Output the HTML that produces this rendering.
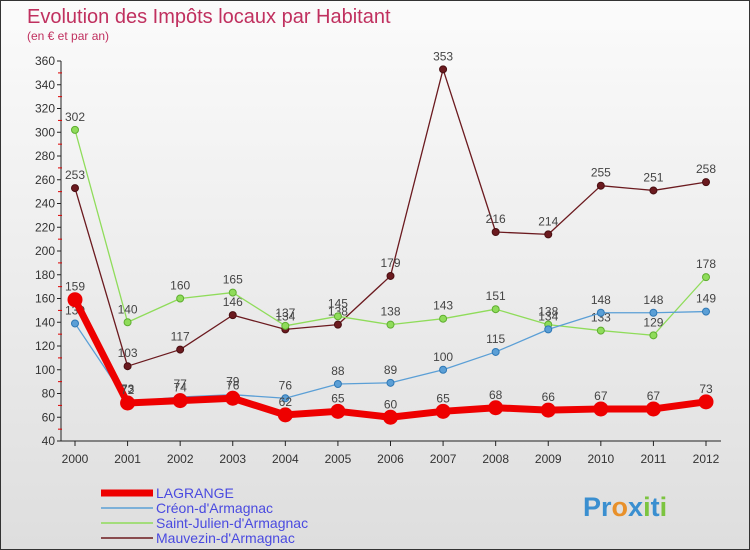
<!DOCTYPE html>
<html><head><meta charset="utf-8"><style>
body{margin:0;}
#c{width:748px;height:548px;border:1px solid #333;background:linear-gradient(#fbfbfb,#dedede);position:relative;font-family:"Liberation Sans",sans-serif;overflow:hidden}
svg{position:absolute;left:0;top:0}
</style></head><body>
<div id="c">
<svg id="s" width="748" height="548">
<text x="26" y="22" font-size="20" fill="#c0305f">Evolution des Impôts locaux par Habitant</text>
<text x="26" y="39" font-size="12" fill="#c0305f">(en € et par an)</text>
</svg>
</div>
<script>
const years=["2000","2001","2002","2003","2004","2005","2006","2007","2008","2009","2010","2011","2012"];
const yTicks=[40,60,80,100,120,140,160,180,200,220,240,260,280,300,320,340,360];
const lagrange=[159,72,74,76,62,65,60,65,68,66,67,67,73];
const creon=[139,73,77,79,76,88,89,100,115,134,148,148,149];
const stJulien=[302,140,160,165,137,145,138,143,151,138,133,129,178];
const mauvezin=[253,103,117,146,134,138,179,353,216,214,255,251,258];
const seriesNames=["LAGRANGE","Créon-d'Armagnac","Saint-Julien-d'Armagnac","Mauvezin-d'Armagnac"];
const s=document.getElementById('s');const NS="http://www.w3.org/2000/svg";
const X=i=>74+i*(705-74)/(years.length-1);
const Y=v=>440-(v-40)*(380/320);
function mk(t,a,p){const e=document.createElementNS(NS,t);for(const k in a)e.setAttribute(k,a[k]);(p||s).appendChild(e);return e;}
let ax=mk('line',{x1:60,y1:60,x2:60,y2:440,stroke:'#222'});


let xa=mk('line',{x1:60,y1:440,x2:720,y2:440,stroke:'#222'});


yTicks.forEach((v,k)=>{const y=Y(v);
mk('line',{x1:56,y1:y,x2:60,y2:y,stroke:'#222'});
if(k>0)mk('line',{x1:57,y1:y+11.9,x2:61,y2:y+11.9,stroke:'#d00'});
const t=mk('text',{x:54,y:y+4,'font-size':12,fill:'#333','text-anchor':'end'});t.textContent=v;

});
years.forEach((yr,i)=>{const x=X(i);mk('line',{x1:x,y1:440,x2:x,y2:445,stroke:'#222'});
const t=mk('text',{x:x,y:462,'font-size':12,fill:'#333','text-anchor':'middle'});t.textContent=yr;

});
function series(data,color,w,r,name,dark){
const g=mk('g',{});


mk('polyline',{points:data.map((v,i)=>X(i)+','+Y(v)).join(' '),fill:'none',stroke:color,'stroke-width':w,'stroke-linejoin':'round'},g);
data.forEach((v,i)=>{const c=mk('circle',{cx:X(i),cy:Y(v),r:r,fill:color,stroke:dark,'stroke-width':1},g);


const t=mk('text',{x:X(i),y:Y(v)-9,'font-size':12,fill:'#444','text-anchor':'middle'},g);t.textContent=v;

});}
series(mauvezin,'#6b1a1f',1.3,3.5,'series-mauvezin','#4a0f12');
series(stJulien,'#8fdc5a',1.3,3.5,'series-saint-julien','#5fae30');
series(creon,'#5b9fd6',1.3,3.5,'series-creon','#2f78b5');
series(lagrange,'#ee0000',7,7,'series-lagrange','#ee0000');
const lc=['#ee0000','#5b9fd6','#8fdc5a','#6b1a1f'],lw=[7,1.5,1.5,1.5];
seriesNames.forEach((n,i)=>{const y=492+i*15;
const g=mk('g',{});


mk('line',{x1:100,y1:y,x2:152,y2:y,stroke:lc[i],'stroke-width':lw[i]},g);
const t=mk('text',{x:155,y:y+5,'font-size':14,fill:'#4a4ae0'},g);t.textContent=n;});
const lg=mk('text',{x:582,y:515,'font-size':27,'font-weight':'bold',fill:'#e8902a'});


lg.innerHTML='<tspan fill="#3a8fd0">Pr</tspan><tspan fill="#e8902a">o</tspan><tspan fill="#3a8fd0">x</tspan><tspan fill="#7cc440">i</tspan><tspan fill="#3a8fd0">t</tspan><tspan fill="#7cc440">i</tspan>';
</script>
</body></html>
